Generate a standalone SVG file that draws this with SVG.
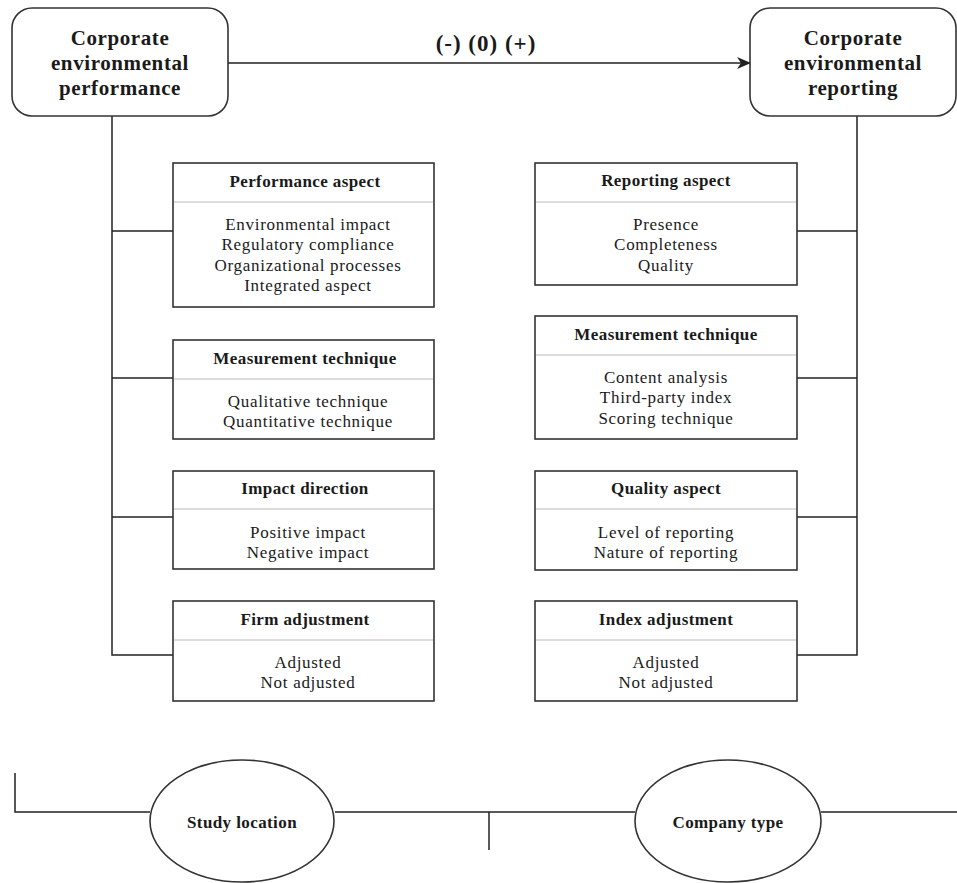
<svg xmlns="http://www.w3.org/2000/svg" width="957" height="883" viewBox="0 0 957 883">
<style>
text{font-family:"Liberation Serif","Times New Roman",serif;fill:#1a1a1a;text-anchor:middle}
.t{font-size:21px;font-weight:bold;letter-spacing:0.6px}
.h{font-size:17px;font-weight:bold;letter-spacing:0.4px}
.i{font-size:17px;letter-spacing:0.7px}
.box{fill:#fff;stroke:#333;stroke-width:1.6}
.div{stroke:#bbb;stroke-width:1.2}
.ln{fill:none;stroke:#222;stroke-width:1.5}
</style>
<defs>
<marker id="ah" markerWidth="14" markerHeight="12" refX="13" refY="6" orient="auto" markerUnits="userSpaceOnUse">
<path d="M0,0 L14,6 L0,12 L4,6 Z" fill="#222"/>
</marker>
</defs>
<g id="connectors">
<line class="ln" x1="228" y1="63" x2="750" y2="63" marker-end="url(#ah)"/>
<text x="486" y="51" class="t" style="font-size:23px;letter-spacing:1px">(-) (0) (+)</text>
<path class="ln" d="M112,116 V655 H173"/>
<line class="ln" x1="112" y1="231" x2="173" y2="231"/>
<line class="ln" x1="112" y1="378" x2="173" y2="378"/>
<line class="ln" x1="112" y1="517" x2="173" y2="517"/>
<path class="ln" d="M857,116 V655 H797"/>
<line class="ln" x1="797" y1="231" x2="857" y2="231"/>
<line class="ln" x1="797" y1="378" x2="857" y2="378"/>
<line class="ln" x1="797" y1="517" x2="857" y2="517"/>
<path class="ln" d="M15,773 V812 H150"/>
<line class="ln" x1="335" y1="812" x2="635" y2="812"/>
<line class="ln" x1="489" y1="812" x2="489" y2="850"/>
<line class="ln" x1="821" y1="812" x2="957" y2="812"/>
</g>
<g id="cep">
<rect x="12" y="8" width="216" height="108" rx="20" class="box"/>
<text class="t" x="120" y="45">Corporate</text>
<text class="t" x="120" y="70">environmental</text>
<text class="t" x="120" y="95">performance</text>
</g>
<g id="cer">
<rect x="750" y="8" width="206" height="108" rx="20" class="box"/>
<text class="t" x="853" y="45">Corporate</text>
<text class="t" x="853" y="70">environmental</text>
<text class="t" x="853" y="95">reporting</text>
</g>
<g id="performance-aspect">
<rect x="173" y="163" width="261" height="144" class="box"/>
<line class="div" x1="174" y1="202" x2="433" y2="202"/>
<text class="h" x="305" y="187">Performance aspect</text>
<text class="i" x="308" y="230">Environmental impact</text>
<text class="i" x="308" y="250">Regulatory compliance</text>
<text class="i" x="308" y="271">Organizational processes</text>
<text class="i" x="308" y="291">Integrated aspect</text>
</g>
<g id="measurement-technique-left">
<rect x="173" y="340" width="261" height="99" class="box"/>
<line class="div" x1="174" y1="379" x2="433" y2="379"/>
<text class="h" x="305" y="364">Measurement technique</text>
<text class="i" x="308" y="407">Qualitative technique</text>
<text class="i" x="308" y="427">Quantitative technique</text>
</g>
<g id="impact-direction">
<rect x="173" y="471" width="261" height="98" class="box"/>
<line class="div" x1="174" y1="509" x2="433" y2="509"/>
<text class="h" x="305" y="494">Impact direction</text>
<text class="i" x="308" y="538">Positive impact</text>
<text class="i" x="308" y="558">Negative impact</text>
</g>
<g id="firm-adjustment">
<rect x="173" y="601" width="261" height="100" class="box"/>
<line class="div" x1="174" y1="640" x2="433" y2="640"/>
<text class="h" x="305" y="625">Firm adjustment</text>
<text class="i" x="308" y="668">Adjusted</text>
<text class="i" x="308" y="688">Not adjusted</text>
</g>
<g id="reporting-aspect">
<rect x="535" y="163" width="262" height="122" class="box"/>
<line class="div" x1="536" y1="202" x2="796" y2="202"/>
<text class="h" x="666" y="186">Reporting aspect</text>
<text class="i" x="666" y="230">Presence</text>
<text class="i" x="666" y="250">Completeness</text>
<text class="i" x="666" y="271">Quality</text>
</g>
<g id="measurement-technique-right">
<rect x="535" y="316" width="262" height="123" class="box"/>
<line class="div" x1="536" y1="355" x2="796" y2="355"/>
<text class="h" x="666" y="340">Measurement technique</text>
<text class="i" x="666" y="383">Content analysis</text>
<text class="i" x="666" y="403">Third-party index</text>
<text class="i" x="666" y="424">Scoring technique</text>
</g>
<g id="quality-aspect">
<rect x="535" y="471" width="262" height="99" class="box"/>
<line class="div" x1="536" y1="509" x2="796" y2="509"/>
<text class="h" x="666" y="494">Quality aspect</text>
<text class="i" x="666" y="538">Level of reporting</text>
<text class="i" x="666" y="558">Nature of reporting</text>
</g>
<g id="index-adjustment">
<rect x="535" y="601" width="262" height="100" class="box"/>
<line class="div" x1="536" y1="640" x2="796" y2="640"/>
<text class="h" x="666" y="625">Index adjustment</text>
<text class="i" x="666" y="668">Adjusted</text>
<text class="i" x="666" y="688">Not adjusted</text>
</g>
<g id="study-location">
<ellipse cx="242" cy="821" rx="92" ry="61" class="box"/>
<text class="h" x="242" y="828">Study location</text>
</g>
<g id="company-type">
<ellipse cx="728" cy="821" rx="93" ry="61" class="box"/>
<text class="h" x="728" y="828">Company type</text>
</g>
</svg>
